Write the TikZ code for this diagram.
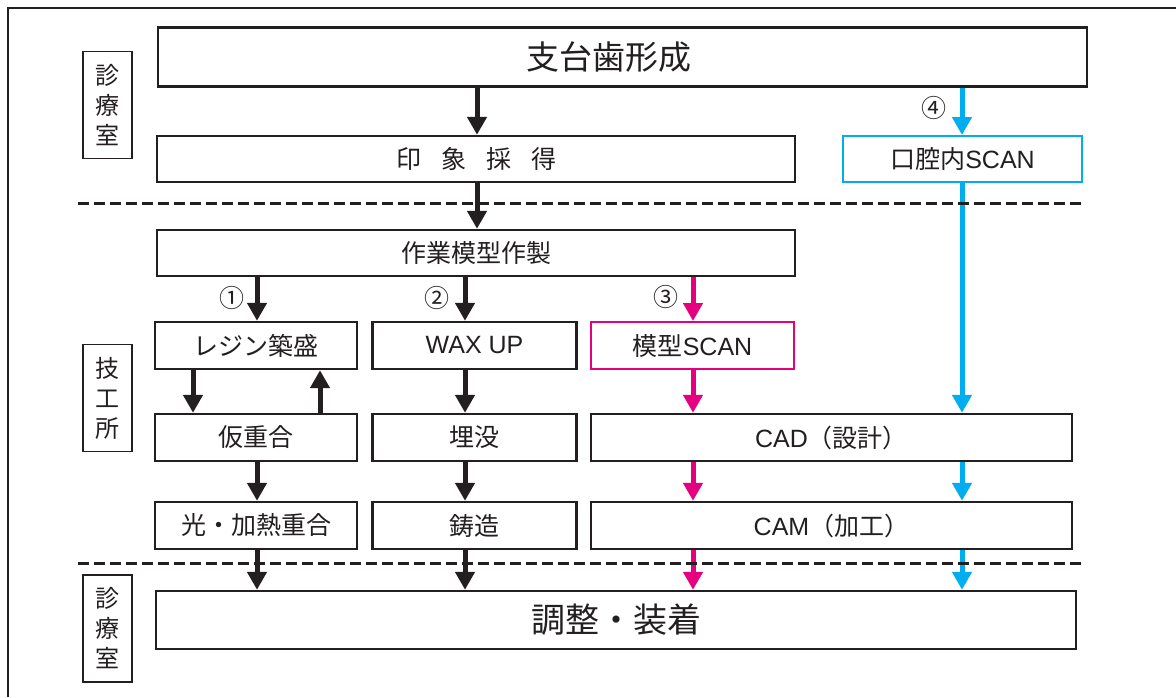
\documentclass[tikz,border=0pt]{standalone}
\usepackage{fontspec}
\setmainfont{Liberation Sans}
\newfontfamily\jp{Noto Sans CJK JP}
\usetikzlibrary{arrows.meta}
\definecolor{ink}{HTML}{231F20}
\definecolor{mag}{HTML}{E4007F}
\definecolor{cya}{HTML}{00AEEF}
\begin{document}
\begin{tikzpicture}[x=1pt,y=-1pt,
  box/.style={draw=ink, line width=2.4pt, inner sep=0pt, text=ink, minimum height=47pt, font=\fontsize{25}{25}\selectfont},
  jbox/.style={box, font=\jp\fontsize{25}{25}\selectfont},
  side/.style={draw=ink, line width=1.2pt, inner sep=0pt, minimum width=49pt, minimum height=107pt, align=center, text=ink, font=\jp\fontsize{24}{30}\selectfont},
  arr/.style={line width=5pt, draw=ink, -{Triangle[length=18pt,width=19pt]}},
  marr/.style={arr, draw=mag},
  carr/.style={arr, draw=cya},
  num/.style={inner sep=0pt, text=ink, font=\jp\fontsize{25}{25}\selectfont},
  sep/.style={draw=ink, line width=3pt, dash pattern=on 10.5pt off 5.5pt}]
\useasboundingbox (0,0) rectangle (1176,697);
\fill[white] (0,0) rectangle (1176,697);
\draw[ink, line width=1.2pt] (8,697) -- (8,8) -- (1176,8);

% side labels
\node[side] (s1) at (107.5,105) {診\\療\\室};
\node[side] (s2) at (107.5,398) {技\\工\\所};
\node[side] (s3) at (107.5,628.5) {診\\療\\室};

% boxes
\node[box, minimum width=929pt, minimum height=59pt, font=\jp\fontsize{33}{33}\selectfont] (sg) at (622.5,57) {支台歯形成\hspace*{28pt}};
\node[jbox, minimum width=638pt, minimum height=46pt] (ins) at (476,159) {印\hspace{0.8em}象\hspace{0.8em}採\hspace{0.8em}得};
\node[box, draw=cya, line width=2pt, minimum width=239pt, minimum height=46pt] (ios) at (962.5,159) {{\jp 口腔内}SCAN};
\node[jbox, minimum width=638pt, minimum height=46pt] (sak) at (476,253) {作業模型作製};

\node[jbox, minimum width=202pt] (rj) at (256,345.5) {レジン築盛};
\node[box, minimum width=204pt] (wax) at (474.5,345.5) {WAX UP};
\node[box, draw=mag, line width=2pt, minimum width=203pt] (ms) at (692.5,345.5) {{\jp 模型}SCAN};

\node[jbox, minimum width=202pt] (kari) at (256,437.5) {仮重合};
\node[jbox, minimum width=204pt] (mai) at (474.5,437.5) {埋没};
\node[box, minimum width=481pt] (cad) at (831.5,437.5) {CAD{\jp （設計）}};

\node[jbox, minimum width=202pt] (hik) at (256,525.5) {光・加熱重合};
\node[jbox, minimum width=204pt] (chu) at (474.5,525.5) {鋳造};
\node[box, minimum width=481pt] (cam) at (831.5,525.5) {CAM{\jp （加工）}};

\node[box, minimum width=920pt, minimum height=58pt, font=\jp\fontsize{34}{34}\selectfont] (cho) at (616,620) {調整・装着};

% circled numbers
\node[num] (n1) at (232,298) {①};
\node[num] (n2) at (437,298) {②};
\node[num] (n3) at (666,297) {③};
\node[num] (n4) at (934,108) {④};

% x positions
\coordinate (xa) at (193,0);
\coordinate (xb) at (257,0);
\coordinate (xc) at (320,0);
\coordinate (xd) at (465,0);
\coordinate (xe) at (477,0);
\coordinate (xf) at (693,0);
\coordinate (xg) at (962,0);

% arrows
\draw[arr] (sg.south -| xe) -- (ins.north -| xe);
\draw[arr] (ins.south -| xe) -- (sak.north -| xe);
\draw[carr] (sg.south -| xg) -- (ios.north -| xg);
\draw[carr] (ios.south -| xg) -- (cad.north -| xg);

\draw[arr] (sak.south -| xb) -- (rj.north -| xb);
\draw[arr] (sak.south -| xd) -- (wax.north -| xd);
\draw[marr] (sak.south -| xf) -- (ms.north -| xf);

\draw[arr] (rj.south -| xa) -- (kari.north -| xa);
\draw[arr] (kari.north -| xc) -- (rj.south -| xc);
\draw[arr] (wax.south -| xd) -- (mai.north -| xd);
\draw[marr] (ms.south -| xf) -- (cad.north -| xf);

\draw[arr] (kari.south -| xb) -- (hik.north -| xb);
\draw[arr] (mai.south -| xd) -- (chu.north -| xd);
\draw[marr] (cad.south -| xf) -- (cam.north -| xf);
\draw[carr] (cad.south -| xg) -- (cam.north -| xg);

\draw[arr] (hik.south -| xb) -- (cho.north -| xb);
\draw[arr] (chu.south -| xd) -- (cho.north -| xd);
\draw[marr] (cam.south -| xf) -- (cho.north -| xf);
\draw[carr] (cam.south -| xg) -- (cho.north -| xg);

% separators
\draw[sep] (78,203) -- (1083,203);
\draw[sep] (78,563) -- (1083,563);
\end{tikzpicture}
\end{document}
